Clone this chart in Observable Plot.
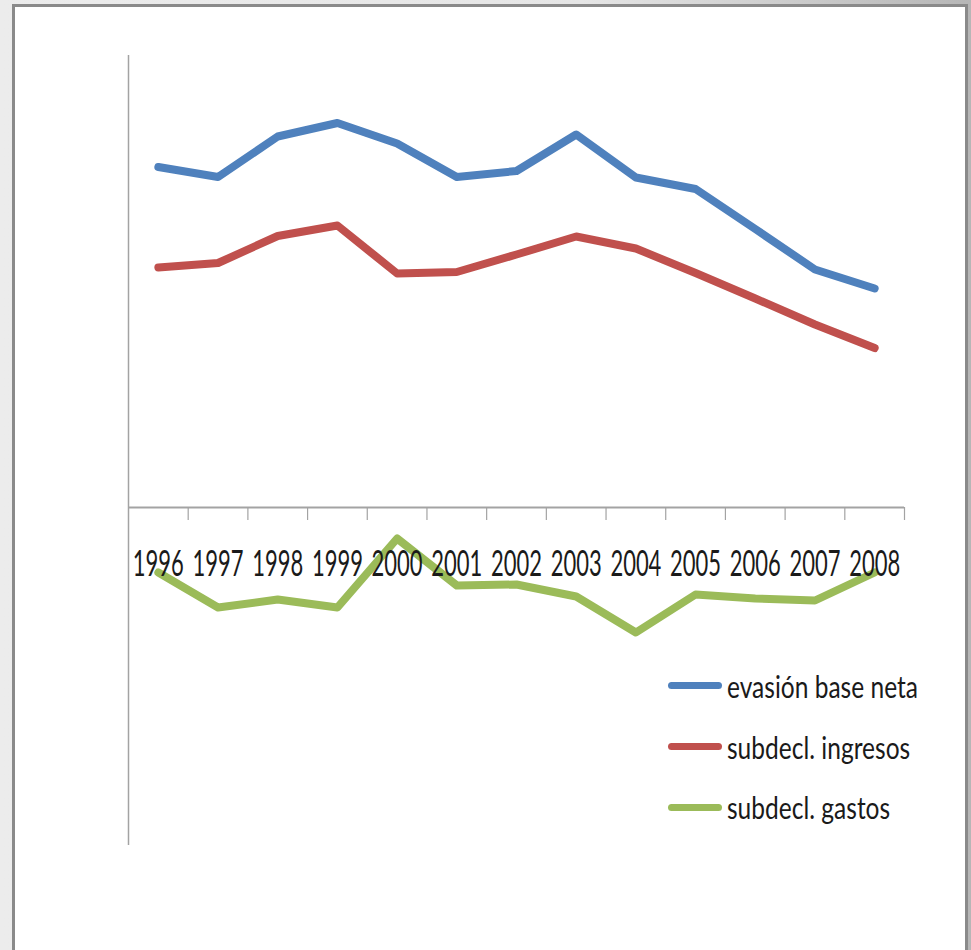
<!DOCTYPE html>
<html>
<head>
<meta charset="utf-8">
<script src="https://cdn.jsdelivr.net/npm/d3@7"></script>
<script src="https://cdn.jsdelivr.net/npm/@observablehq/plot@0.6"></script>
<style>
  html, body { margin: 0; padding: 0; }
  body {
    width: 971px; height: 950px; overflow: hidden; position: relative;
    background: linear-gradient(to right, #ececec 0%, #e6e6e6 60%, #b6b6b6 100%);
    font-family: Lato, "Open Sans", sans-serif;
  }
  #frame {
    position: absolute; left: 12px; top: 4px; width: 950px; height: 960px;
    border: 3px solid #8a8a8a; border-bottom: none; background: #fff;
  }
  #chart svg { display: block; background: transparent; }
  .sw { position: absolute; width: 54px; height: 7px; border-radius: 3.5px; }
  .lt { position: absolute; font-size: 31px; line-height: 31px; color: #1a1a1a;
        white-space: nowrap; transform-origin: left center; }
</style>
</head>
<body>
<div id="frame"><div id="chart"></div></div>
<div id="legend"></div>
<script>
const years = [1996, 1997, 1998, 1999, 2000, 2001, 2002, 2003, 2004, 2005, 2006, 2007, 2008];
const evasionBaseNeta = [34.05, 33.05, 37.1, 38.45, 36.4, 33.05, 33.65, 37.3, 33.0, 31.85, 27.85, 23.8, 21.9];
const subdeclIngresos = [24.0, 24.45, 27.15, 28.2, 23.4, 23.55, 25.3, 27.1, 25.9, 23.45, 20.9, 18.3, 15.95];
const subdeclGastos = [-6.5, -10.0, -9.2, -10.0, -3.1, -7.8, -7.7, -8.9, -12.5, -8.7, -9.1, -9.3, -6.5];
const seriesNames = ["evasión base neta", "subdecl. ingresos", "subdecl. gastos"];
const seriesColors = ["#4F81BD", "#C0504D", "#9BBB59"];
const yDomain = [-33.8, 45.2];

const seriesValues = [evasionBaseNeta, subdeclIngresos, subdeclGastos];
const data = seriesNames.flatMap((name, s) =>
  years.map((year, i) => ({year, value: seriesValues[s][i], name})));
const boundaries = years.map(y => y + 0.5);
const axisColor = "#a3a3a3";

const chart = Plot.plot({
  width: 950,
  height: 943,
  marginLeft: 113,
  marginRight: 61,
  marginTop: 48,
  marginBottom: 105,
  style: {fontFamily: "Lato, 'Open Sans', sans-serif", background: "transparent"},
  x: {domain: [years[0] - 0.5, years[years.length - 1] + 0.5], axis: null},
  y: {domain: yDomain, axis: null},
  color: {domain: seriesNames, range: seriesColors},
  marks: [
    Plot.ruleX([years[0] - 0.5], {y1: yDomain[0], y2: yDomain[1], stroke: axisColor, strokeWidth: 1.5}),
    Plot.ruleY([0], {stroke: axisColor, strokeWidth: 2}),
    Plot.ruleX(boundaries, {x: d => d, y1: 0, y2: -1.3, stroke: axisColor, strokeWidth: 1.2}),
    Plot.line(data, {x: "year", y: "value", z: "name", stroke: "name",
      strokeWidth: 8, strokeLinecap: "round", strokeLinejoin: "round"}),
    Plot.text(years, {x: d => d, y: 0, dy: 57, text: d => String(d),
      fontSize: 37, fill: "#1a1a1a", lineAnchor: "middle"})
  ]
});
document.getElementById("chart").appendChild(chart);
chart.querySelectorAll("text").forEach(t => {
  const w = t.getComputedTextLength();
  const k = 51 / w;
  const tr = t.getAttribute("transform") || "";
  t.setAttribute("transform", `${tr} scale(${k},1)`);
});

// Legend (inside plot area, bottom right)
const legend = document.getElementById("legend");
const spans = [];
seriesNames.forEach((name, i) => {
  const sw = document.createElement("div");
  sw.className = "sw";
  sw.style.left = "668px";
  sw.style.top = (682 + 61 * i) + "px";
  sw.style.background = seriesColors[i];
  legend.appendChild(sw);
  const tx = document.createElement("div");
  tx.className = "lt";
  tx.style.left = "727px";
  tx.style.top = (671 + 60.5 * i) + "px";
  tx.textContent = name;
  legend.appendChild(tx);
  spans.push(tx);
});
const natural = spans[0].getBoundingClientRect().width;
const k = 191 / natural;
spans.forEach(s => s.style.transform = `scaleX(${k})`);
</script>
</body>
</html>
